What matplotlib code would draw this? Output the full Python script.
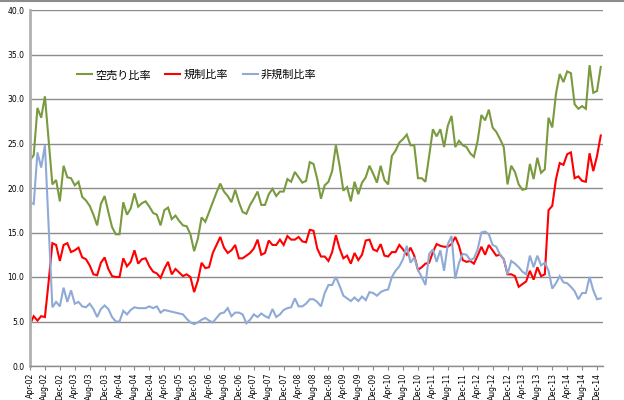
import matplotlib
matplotlib.use("Agg")
import matplotlib.pyplot as plt
from matplotlib.lines import Line2D
import pandas as pd

plt.rcParams['font.family'] = ['Noto Sans CJK JP', 'DejaVu Sans']

months = pd.date_range("2002-04-01", periods=154, freq="MS")

short_sell = [23.1, 23.7, 29.0, 27.9, 30.3, 25.3, 20.4, 20.9, 18.5, 22.5,
              21.2, 21.1, 20.3, 20.7, 19.0, 18.6, 18.0, 17.0, 15.8, 18.2,
              19.1, 17.3, 15.6, 14.8, 14.8, 18.4, 17.0, 17.7, 19.4, 17.9,
              18.3, 18.5, 17.9, 17.2, 17.0, 15.8, 17.5, 17.8, 16.5, 16.9,
              16.3, 15.8, 15.7, 14.8, 12.9, 14.3, 16.7, 16.2, 17.3, 18.4,
              19.5, 20.5, 19.6, 19.1, 18.4, 19.8, 18.4, 17.3, 17.1, 18.1,
              18.8, 19.6, 18.1, 18.1, 19.3, 19.9, 19.1, 19.6, 19.6, 21.0,
              20.7, 21.8, 21.2, 20.6, 20.8, 22.9, 22.7, 21.0, 18.8, 20.3,
              20.7, 21.9, 24.8, 22.5, 19.7, 20.1, 18.5, 20.7, 19.3, 20.6,
              21.2, 22.5, 21.6, 20.6, 22.5, 20.9, 20.4, 23.6, 24.2, 25.1,
              25.5, 26.0, 24.8, 24.8, 21.1, 21.1, 20.7, 23.6, 26.6, 25.8,
              26.6, 24.6, 27.0, 28.1, 24.6, 25.3, 24.8, 24.6, 23.9, 23.5,
              25.3, 28.2, 27.6, 28.8, 26.8, 26.3, 25.5, 24.6, 20.4, 22.5,
              21.8, 20.4, 19.8, 19.9, 22.7, 21.0, 23.4, 21.7, 22.1, 27.9,
              26.8, 30.6, 32.8, 31.9, 33.1, 32.9, 29.4, 28.9, 29.2, 28.9,
              33.8, 30.7, 30.9, 33.6]

regulated = [4.7, 5.6, 5.1, 5.6, 5.5, 9.5, 13.8, 13.6, 11.8, 13.6,
             13.8, 12.8, 13.0, 13.3, 12.2, 12.0, 11.3, 10.3, 10.2, 11.6,
             12.2, 10.9, 10.1, 10.0, 10.0, 12.1, 11.2, 11.7, 13.0, 11.5,
             12.0, 12.1, 11.2, 10.6, 10.4, 9.9, 10.9, 11.7, 10.3, 10.9,
             10.5, 10.1, 10.3, 10.0, 8.3, 9.6, 11.6, 11.0, 11.1, 12.7,
             13.6, 14.5, 13.3, 12.7, 13.0, 13.6, 12.1, 12.1, 12.4, 12.7,
             13.2, 14.2, 12.5, 12.7, 14.1, 13.6, 13.6, 14.2, 13.6, 14.6,
             14.2, 14.2, 14.5, 14.0, 13.9, 15.3, 15.2, 13.2, 12.3, 12.3,
             11.8, 12.8, 14.7, 13.2, 12.1, 12.4, 11.5, 12.7, 11.9, 12.5,
             14.1, 14.2, 13.1, 12.9, 13.7, 12.4, 12.3, 12.8, 12.8, 13.6,
             13.1, 12.5, 13.3, 12.4, 10.8, 11.1, 11.5, 11.6, 12.8, 13.7,
             13.5, 13.4, 13.4, 13.7, 14.5, 13.5, 11.9, 11.7, 11.8, 11.5,
             12.4, 13.4, 12.5, 13.6, 13.0, 12.4, 12.5, 12.0, 10.3, 10.3,
             10.1, 8.9, 9.2, 9.5, 10.7, 9.7, 11.1, 10.1, 10.3, 17.5,
             18.0, 21.0, 22.8, 22.6, 23.8, 24.0, 21.1, 21.3, 20.8, 20.7,
             23.9, 21.9, 23.6, 25.9]

unregulated = [18.4, 18.2, 24.0, 22.3, 24.8, 15.7, 6.6, 7.2, 6.7, 8.8,
               7.2, 8.5, 7.0, 7.2, 6.7, 6.6, 7.0, 6.4, 5.5, 6.4,
               6.8, 6.4, 5.5, 5.0, 5.0, 6.2, 5.8, 6.3, 6.6, 6.5,
               6.5, 6.5, 6.7, 6.5, 6.7, 6.0, 6.3, 6.2, 6.1, 6.0,
               5.9, 5.8, 5.3, 4.9, 4.7, 4.9, 5.2, 5.4, 5.1, 4.9,
               5.4, 5.9, 6.0, 6.5, 5.6, 6.0, 6.0, 5.8, 4.8, 5.2,
               5.8, 5.5, 5.9, 5.6, 5.4, 6.4, 5.5, 5.8, 6.3, 6.5,
               6.6, 7.6, 6.7, 6.7, 7.0, 7.5, 7.5, 7.2, 6.7, 8.2,
               9.1, 9.1, 10.0, 9.0, 7.9, 7.6, 7.3, 7.7, 7.3, 7.8,
               7.4, 8.3, 8.2, 7.9, 8.3, 8.5, 8.6, 10.0, 10.7, 11.2,
               12.0, 13.5, 11.6, 12.2, 10.8, 10.0, 9.1, 12.6, 13.1, 11.7,
               13.0, 10.7, 13.7, 14.6, 9.8, 11.6, 12.6, 12.5, 11.9, 12.1,
               13.1, 15.0, 15.1, 14.8, 13.6, 13.4, 12.5, 12.0, 10.3, 11.8,
               11.5, 11.1, 10.6, 10.3, 12.4, 11.1, 12.4, 11.3, 11.6, 10.7,
               8.7, 9.3, 10.1, 9.4, 9.3, 8.9, 8.4, 7.5, 8.2, 8.2,
               10.0, 8.5, 7.5, 7.6]

series_names = ["空売り比率", "規制比率", "非規制比率"]
colors = ["#7A9A3F", "#FF0000", "#8FAAD6"]

fig = plt.figure(figsize=(6.24, 4.0), dpi=100)
ax = fig.add_axes([30/624, 1-366/400, (603-30)/624, (366-10)/400])

x = list(range(len(months)))
for vals, name, c in zip([short_sell, regulated, unregulated], series_names, colors):
    ax.plot(x, vals, color=c, lw=1.5, label=name, solid_joinstyle='miter')

ax.set_xlim(0, 153.6)
ax.set_ylim(0, 40)
ax.set_yticks([i * 5 for i in range(9)])
ax.set_yticklabels([f"{i*5:.1f}" for i in range(9)], fontsize=5.5, family='DejaVu Sans')
ticks = list(range(0, len(months), 4))
ax.set_xticks(ticks)
ax.set_xticklabels([months[i].strftime("%b-%y") for i in ticks], rotation=90,
                   fontsize=5.5, family='DejaVu Sans')
ax.grid(axis='y', color='#8C8C8C', lw=1.0)
ax.set_axisbelow(True)
for s in ['top', 'right']:
    ax.spines[s].set_visible(False)
ax.spines['left'].set_color('#B0B0B0')
ax.spines['left'].set_linewidth(2.0)
ax.spines['bottom'].set_color('#8C8C8C')
ax.spines['bottom'].set_linewidth(1.0)
ax.tick_params(axis='x', length=3, color='#8C8C8C', pad=2)
ax.tick_params(axis='y', length=0, pad=4)

ax.legend(loc='center left', bbox_to_anchor=(0.082, 0.817), ncol=3, frameon=False,
          fontsize=8, handlelength=1.35, handletextpad=0.3, columnspacing=1.3,
          borderpad=0, borderaxespad=0)

fig.add_artist(Line2D([0, 1], [0.998, 0.998], color='#8C8C8C', lw=1.5, transform=fig.transFigure))

fig.savefig("out.png", dpi=100)
